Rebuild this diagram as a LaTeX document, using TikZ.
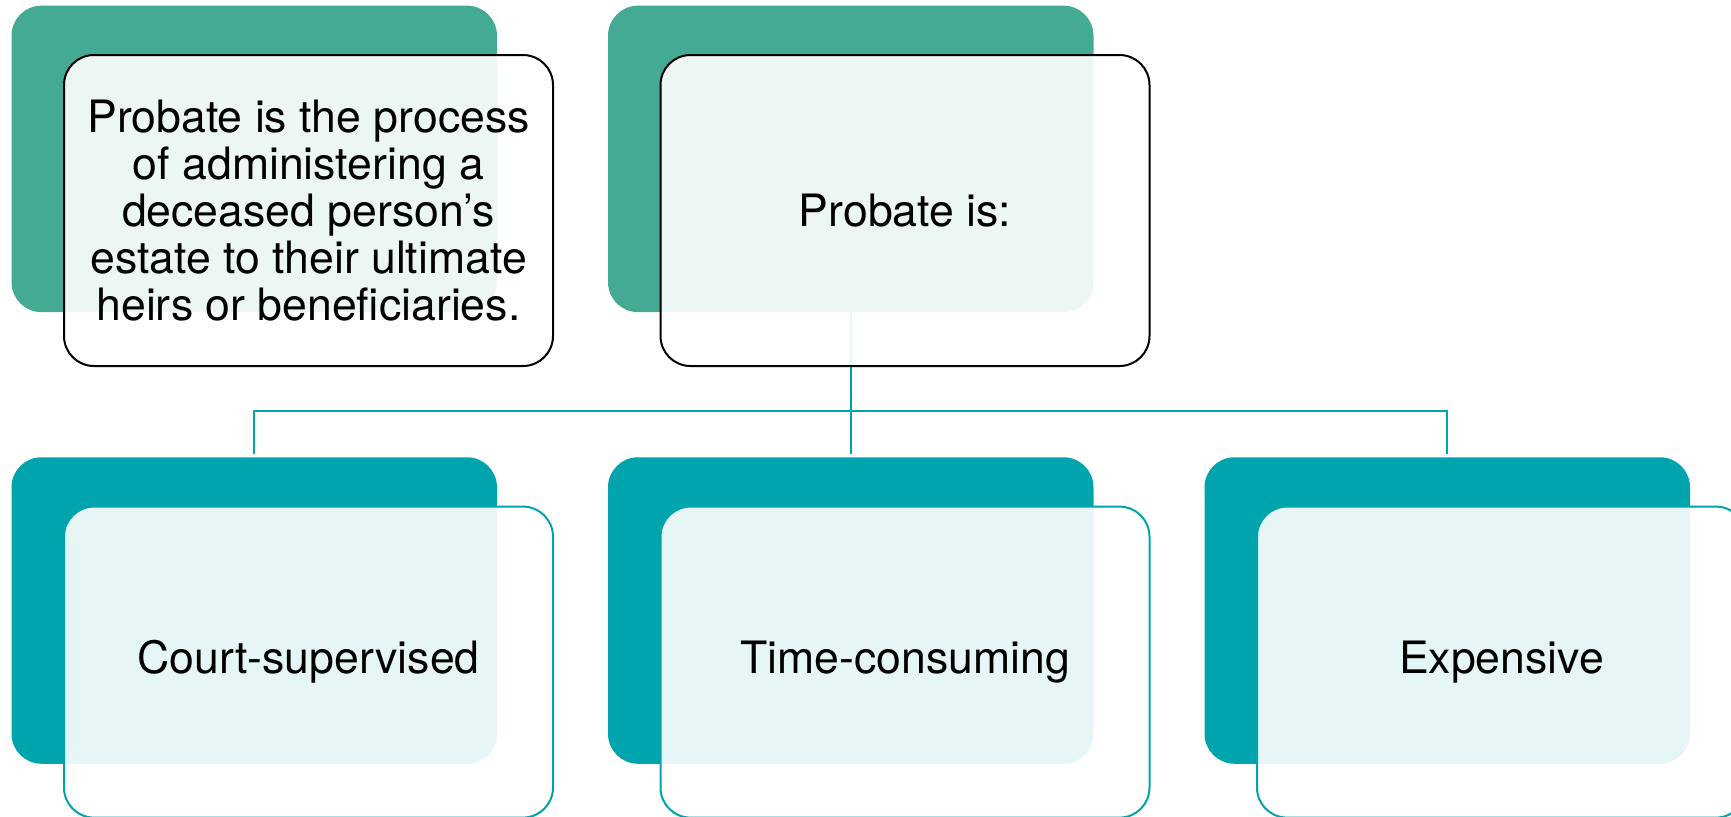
\documentclass[tikz,border=0pt]{standalone}
\usepackage{fontspec}
\setmainfont{TeX Gyre Heros}
\definecolor{sage}{HTML}{44AA93}
\definecolor{lagoon}{HTML}{00A4AC}
\begin{document}
\begin{tikzpicture}
  [x=0.5pt,y=-0.5pt,
   every node/.style={rectangle,rounded corners=15pt,inner sep=0pt,align=center,
     font=\fontsize{22.3pt}{23.4pt}\selectfont},
   tile/.style={fill=#1,minimum width=242.75pt,minimum height=153.25pt},
   card/.style={draw=#1,line width=1pt,fill=white,fill opacity=0.9,text opacity=1,
     minimum width=244.5pt,minimum height=155.5pt},
   link/.style={draw=lagoon,line width=1.2pt,shorten >=1.5pt}]
  \useasboundingbox (0,0) rectangle (1731,816);
  \clip (0,0) rectangle (1731,816);

  % back tiles
  \node[tile=sage]   (t1) at (254.25,158.9) {};
  \node[tile=sage]   (t2) at (850.75,158.9) {};
  \node[tile=lagoon] (t3) at (254.25,610.5) {};
  \node[tile=lagoon] (t4) at (850.75,610.5) {};
  \node[tile=lagoon] (t5) at (1447.25,610.5) {};

  \coordinate (bus) at (850.75,411);
  \foreach \to in {t3,t4,t5}
    \draw[link] (t2.south) -- (bus) -| (\to.north);

  % front cards
  \node[card=black]  (c1) at (308.5,210.5)  {Probate is the process\\of administering a\\deceased person’s\\estate to their ultimate\\heirs or beneficiaries.};
  \node[card=black]  (c2) at (905,210.5)    {Probate is:};
  \node[card=lagoon] (c3) at (308.5,662.1)  {Court-supervised};
  \node[card=lagoon] (c4) at (905,662.1)    {Time-consuming};
  \node[card=lagoon] (c5) at (1501.5,662.1) {Expensive};

\end{tikzpicture}
\end{document}
